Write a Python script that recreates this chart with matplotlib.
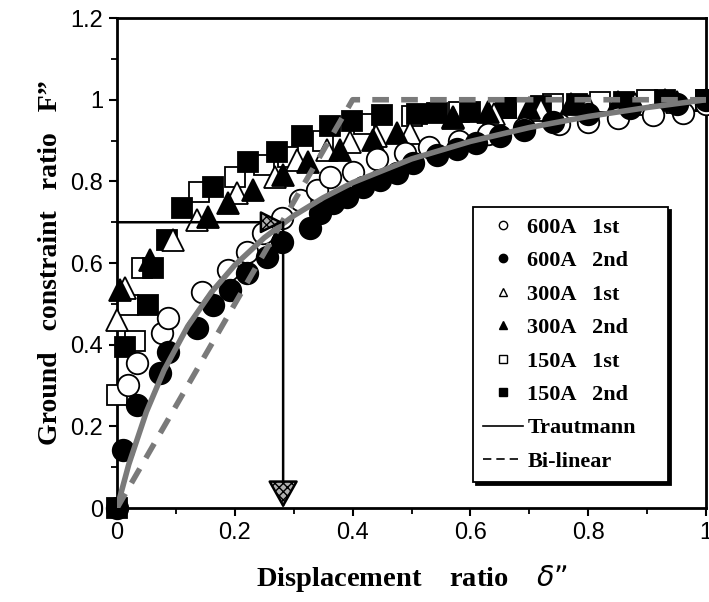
import matplotlib
matplotlib.use("Agg")
import matplotlib.pyplot as plt
from matplotlib.lines import Line2D
from matplotlib.ticker import MultipleLocator

# ---------------- data ----------------
a600_1st_x = [0.019, 0.034, 0.076, 0.087, 0.144, 0.188, 0.22, 0.248, 0.28, 0.311, 0.34, 0.362,
              0.40, 0.441, 0.488, 0.53, 0.58, 0.63, 0.69, 0.75, 0.80, 0.85, 0.91, 0.96, 1.0]
a600_1st_y = [0.301, 0.355, 0.429, 0.465, 0.53, 0.583, 0.627, 0.674, 0.71, 0.754, 0.779, 0.81,
              0.822, 0.855, 0.87, 0.885, 0.9, 0.915, 0.93, 0.94, 0.945, 0.955, 0.962, 0.967, 0.99]

a600_2nd_x = [0.0, 0.01, 0.034, 0.073, 0.087, 0.136, 0.163, 0.192, 0.22, 0.255, 0.28, 0.328, 0.345,
              0.367, 0.39, 0.418, 0.446, 0.475, 0.503, 0.543, 0.577, 0.61, 0.65, 0.69, 0.74,
              0.8, 0.87, 0.95, 1.0]
a600_2nd_y = [0.0, 0.142, 0.252, 0.33, 0.382, 0.44, 0.497, 0.534, 0.575, 0.615, 0.651, 0.686, 0.722,
              0.747, 0.762, 0.786, 0.803, 0.82, 0.845, 0.865, 0.88, 0.895, 0.91, 0.925, 0.945,
              0.965, 0.98, 0.99, 1.0]

a300_1st_x = [0.0, 0.014, 0.095, 0.136, 0.204, 0.268, 0.306, 0.356, 0.396, 0.44, 0.497, 0.571,
              0.64, 0.72, 0.8, 0.88, 0.95, 1.0]
a300_1st_y = [0.46, 0.538, 0.656, 0.706, 0.772, 0.811, 0.852, 0.877, 0.897, 0.91, 0.918, 0.955,
              0.965, 0.975, 0.985, 0.99, 0.995, 1.0]

a300_2nd_x = [0.005, 0.056, 0.155, 0.188, 0.231, 0.282, 0.324, 0.379, 0.435, 0.475, 0.57, 0.63,
              0.7, 0.77, 0.85, 0.93, 1.0]
a300_2nd_y = [0.534, 0.607, 0.713, 0.747, 0.779, 0.816, 0.847, 0.877, 0.901, 0.918, 0.958, 0.97,
              0.98, 0.99, 0.995, 1.0, 1.0]

a150_1st_x = [0.0, 0.03, 0.019, 0.042, 0.14, 0.2, 0.25, 0.29, 0.35, 0.42, 0.5, 0.58, 0.66,
              0.74, 0.82, 0.9, 1.0]
a150_1st_y = [0.277, 0.41, 0.497, 0.588, 0.775, 0.81, 0.84, 0.86, 0.9, 0.94, 0.96, 0.97, 0.98,
              0.99, 0.995, 1.0, 1.0]

a150_2nd_x = [0.0, 0.014, 0.053, 0.061, 0.085, 0.11, 0.163, 0.222, 0.272, 0.314, 0.362, 0.399,
              0.45, 0.509, 0.543, 0.6, 0.66, 0.72, 0.78, 0.86, 0.93, 1.0]
a150_2nd_y = [0.0, 0.395, 0.497, 0.588, 0.656, 0.735, 0.786, 0.847, 0.872, 0.911, 0.935, 0.948,
              0.962, 0.965, 0.967, 0.97, 0.98, 0.985, 0.99, 0.995, 1.0, 1.0]

trautmann_x = [0.0, 0.02, 0.05, 0.08, 0.12, 0.16, 0.2, 0.25, 0.3, 0.35, 0.4, 0.5, 0.6, 0.7,
               0.8, 0.9, 1.0]
trautmann_y = [0.0, 0.107, 0.236, 0.338, 0.445, 0.528, 0.595, 0.662, 0.716, 0.76, 0.797, 0.855,
               0.898, 0.932, 0.959, 0.981, 1.0]

bilinear_x = [0.0, 0.4, 1.0]
bilinear_y = [0.0, 1.0, 1.0]

guide_F = 0.70        # horizontal guide level
guide_delta = 0.282   # delta

x_ticks = [0, 0.2, 0.4, 0.6, 0.8, 1]
x_ticklabels = ["0", "0.2", "0.4", "0.6", "0.8", "1"]
y_ticks = [0, 0.2, 0.4, 0.6, 0.8, 1, 1.2]
y_ticklabels = ["0", "0.2", "0.4", "0.6", "0.8", "1", "1.2"]

labels = ["600A   1st", "600A   2nd", "300A   1st", "300A   2nd", "150A   1st", "150A   2nd",
          "Trautmann", "Bi-linear"]

# ---------------- figure ----------------
fig = plt.figure(figsize=(7.09, 6.02), dpi=100)
ax = fig.add_axes([0.165, 0.156, 0.831, 0.814])

ms = 15.5
common = dict(linestyle="none", clip_on=False, markeredgecolor="black", markeredgewidth=1.3)
ax.plot(a150_1st_x, a150_1st_y, marker="s", markerfacecolor="white", markersize=ms - 1.5, zorder=3, **common)
ax.plot(a150_2nd_x, a150_2nd_y, marker="s", markerfacecolor="black", markersize=ms - 1.5, zorder=3, **common)
ax.plot(a300_1st_x, a300_1st_y, marker="^", markerfacecolor="white", markersize=ms + 1, zorder=4, **common)
ax.plot(a300_2nd_x, a300_2nd_y, marker="^", markerfacecolor="black", markersize=ms + 1, zorder=4, **common)
ax.plot(a600_1st_x, a600_1st_y, marker="o", markerfacecolor="white", markersize=ms, zorder=5, **common)
ax.plot(a600_2nd_x, a600_2nd_y, marker="o", markerfacecolor="black", markersize=ms, zorder=5, **common)

curve_col = "#7a7a7a"
ax.plot(trautmann_x, trautmann_y, color=curve_col, lw=4.0, zorder=6, solid_capstyle="butt")
ax.plot(bilinear_x, bilinear_y, color=curve_col, lw=4.0, zorder=6, dashes=(3.0, 2.2))

# guide arrows
ax.annotate("", xy=(guide_delta, guide_F), xytext=(0.0, guide_F),
            arrowprops=dict(arrowstyle="-|>,head_length=0.7,head_width=0.35", lw=1.8,
                            color="black", fc="#b0b0b0", hatch="xxxx", mutation_scale=20,
                            shrinkA=0, shrinkB=0), zorder=7)
ax.annotate("", xy=(guide_delta, 0.0), xytext=(guide_delta, guide_F),
            arrowprops=dict(arrowstyle="-|>,head_length=0.75,head_width=0.42", lw=1.8,
                            color="black", fc="#b0b0b0", hatch="xxxx", mutation_scale=23,
                            shrinkA=0, shrinkB=0), zorder=7)

# axes styling
ax.set_xlim(0, 1)
ax.set_ylim(0, 1.2)
ax.set_xticks(x_ticks)
ax.set_xticklabels(x_ticklabels)
ax.set_yticks(y_ticks)
ax.set_yticklabels(y_ticklabels)
ax.xaxis.set_minor_locator(MultipleLocator(0.1))
ax.yaxis.set_minor_locator(MultipleLocator(0.1))
ax.tick_params(which="major", direction="out", length=6, width=1.5, pad=4,
               labelsize=17, labelfontfamily="Liberation Sans")
ax.tick_params(which="minor", direction="out", length=4, width=1.3)
for sp in ax.spines.values():
    sp.set_linewidth(2.0)

serif = "Liberation Serif"
plt.rcParams["mathtext.fontset"] = "stix"
ax.set_xlabel("Displacement    ratio    $\\delta$\u201d", fontsize=20.5, fontweight="bold",
              family=serif, labelpad=14)
ax.set_ylabel("Ground   constraint   ratio   F\u201d", fontsize=20, fontweight="bold",
              family=serif, labelpad=5)

# legend
handles = [
    Line2D([], [], ls="none", marker="o", mfc="white", mec="black", ms=6, mew=1),
    Line2D([], [], ls="none", marker="o", mfc="black", mec="black", ms=6, mew=1),
    Line2D([], [], ls="none", marker="^", mfc="white", mec="black", ms=6, mew=1),
    Line2D([], [], ls="none", marker="^", mfc="black", mec="black", ms=6, mew=1),
    Line2D([], [], ls="none", marker="s", mfc="white", mec="black", ms=6, mew=1),
    Line2D([], [], ls="none", marker="s", mfc="black", mec="black", ms=6, mew=1),
    Line2D([], [], color="black", lw=1.2),
    Line2D([], [], color="black", lw=1.2, dashes=(5, 3)),
]
leg = ax.legend(handles, labels, loc="upper left", bbox_to_anchor=(0.604, 0.614, 0.331, 0.0),
                mode="expand", borderaxespad=0.0,
                prop=dict(family=serif, weight="bold", size=16),
                handlelength=1.8, handletextpad=0.2, labelspacing=0.58, borderpad=0.45,
                fancybox=False, frameon=True, edgecolor="black", framealpha=1,
                shadow={"color": "black", "alpha": 1})
leg.get_frame().set_linewidth(1.3)
leg.set_zorder(10)

fig.savefig("out.png", dpi=100)
